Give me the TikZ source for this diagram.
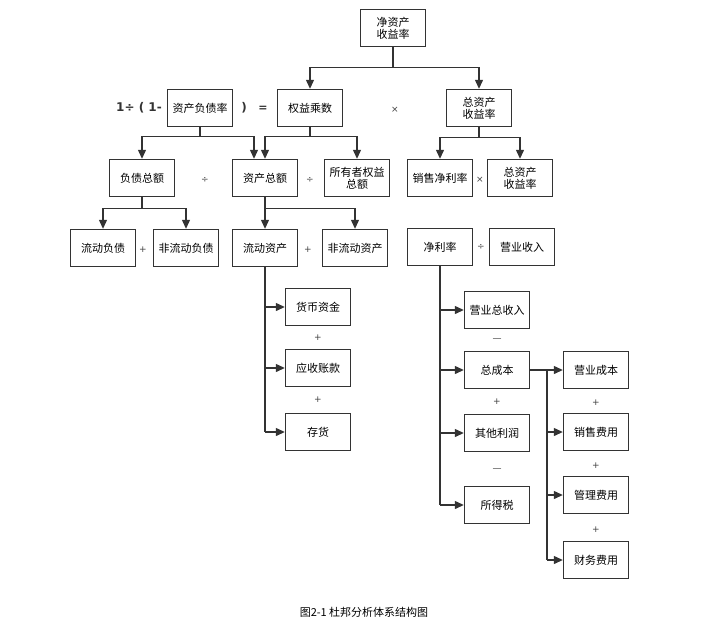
\documentclass[tikz,border=0pt]{standalone}
\usepackage{fontspec}
\newfontfamily\cjk{Noto Sans CJK SC}
\newfontfamily\opf{DejaVu Sans}
\usetikzlibrary{arrows.meta}
\tikzset{
    blk/.style={draw=black!80, line width=1.4pt, minimum width=65pt, minimum height=37pt, align=center, font=\cjk\fontsize{11}{12}\selectfont, inner sep=1pt},
    op/.style={font=\opf\fontsize{9}{10}\selectfont, text=black!75},
    arr/.style={-{Triangle[length=9pt,width=8pt]}, line width=1.2pt, draw=black!80},
    ln/.style={line width=1.2pt, draw=black!80}
}
\begin{document}
\begin{tikzpicture}[x=1pt,y=-1pt]
    \useasboundingbox (0,0) rectangle (728,630);
    % top levels
    \node[blk] (roe) at (393,28) {净资产\\收益率};
    \node[blk] (dar) at (200,108) {资产负债率};
    \node[blk] (em) at (310,108) {权益乘数};
    \node[blk] (roa) at (479,108) {总资产\\收益率};
    \node[blk] (debt) at (142,178) {负债总额};
    \node[blk] (asset) at (265,178) {资产总额};
    \node[blk] (equity) at (357,178) {所有者权益\\总额};
    \node[blk] (npm) at (440,178) {销售净利率};
    \node[blk] (roa2) at (520,178) {总资产\\收益率};
    \node[blk] (cl) at (103,248) {流动负债};
    \node[blk] (ncl) at (186,248) {非流动负债};
    \node[blk] (ca) at (265,248) {流动资产};
    \node[blk] (nca) at (355,248) {非流动资产};
    \node[blk] (np) at (440,247) {净利率};
    \node[blk] (rev) at (522,247) {营业收入};
    % asset column
    \foreach \n/\y/\t in {cash/307/货币资金, recv/368/应收账款, inv/432/存货}{
        \node[blk] (\n) at (318,\y) {\t};
    }
    % profit column
    \foreach \n/\y/\t in {tr/310/营业总收入, tc/370/总成本, op/433/其他利润, tax/505/所得税}{
        \node[blk] (\n) at (497,\y) {\t};
    }
    % cost column
    \foreach \n/\y/\t in {oc/370/营业成本, se/432/销售费用, ae/495/管理费用, fe/560/财务费用}{
        \node[blk] (\n) at (596,\y) {\t};
    }
    % operators
    \node[font=\opf\bfseries\fontsize{12}{12}\selectfont, text=black!80] (lhs) at (139,108) {1÷ ( 1-};
    \node[font=\opf\bfseries\fontsize{12}{12}\selectfont, text=black!80] (rp) at (244,108) {)};
    \node[font=\opf\bfseries\fontsize{11}{11}\selectfont, text=black!80] (eq) at (263,109) {=};
    \node[op] (x1) at (395,110) {×};
    \node[op] (d1) at (205,180) {÷};
    \node[op] (d2) at (310,180) {÷};
    \node[op] (x2) at (480,180) {×};
    \node[op] (p1) at (143,250) {+};
    \node[op] (p2) at (308,250) {+};
    \node[op] (d3) at (481,247) {÷};
    \node[op] (m1) at (497,340) {—};
    \node[op] (p3) at (497,402) {+};
    \node[op] (m2) at (497,470) {—};
    \foreach \y in {338,400}{\node[op] at (318,\y) {+};}
    \foreach \y in {403,466,530}{\node[op] at (596,\y) {+};}
    % connectors
    \draw[ln] (roe.south) -- ++(0,20) coordinate (r1);
    \draw[arr] (r1) -| (em.north);
    \draw[arr] (r1) -| (roa.north);
    \draw[ln] (dar.south) -- ++(0,9) coordinate (r2);
    \draw[arr] (r2) -| (debt.north);
    \draw[arr] (r2) -| ([xshift=-11pt]asset.north);
    \draw[ln] (em.south) -- ++(0,9) coordinate (r3);
    \draw[arr] (r3) -| (asset.north);
    \draw[arr] (r3) -| (equity.north);
    \draw[ln] (roa.south) -- ++(0,10) coordinate (r4);
    \draw[arr] (r4) -| (npm.north);
    \draw[arr] (r4) -| (roa2.north);
    \draw[ln] (debt.south) -- ++(0,11) coordinate (r5);
    \draw[arr] (r5) -| (cl.north);
    \draw[arr] (r5) -| (ncl.north);
    \draw[ln] (asset.south) -- ++(0,11) coordinate (r6);
    \draw[arr] (r6) -| (ca.north);
    \draw[arr] (r6) -| (nca.north);
    \draw[ln] (ca.south) -- (ca.south |- inv.west);
    \foreach \n in {cash,recv,inv}{\draw[arr] (ca.south |- \n.west) -- (\n.west);}
    \draw[ln] (np.south) -- (np.south |- tax.west);
    \foreach \n in {tr,tc,op,tax}{\draw[arr] (np.south |- \n.west) -- (\n.west);}
    \coordinate (ct) at (547,370);
    \draw[ln] (tc.east) -- (ct) -- (ct |- fe.west);
    \draw[arr] (tc.east) -- (oc.west);
    \foreach \n in {se,ae,fe}{\draw[arr] (ct |- \n.west) -- (\n.west);}
    % caption
    \node[font=\cjk\fontsize{11}{12}\selectfont] (cap) at (364,612) {图2-1 杜邦分析体系结构图};
\end{tikzpicture}
\end{document}
